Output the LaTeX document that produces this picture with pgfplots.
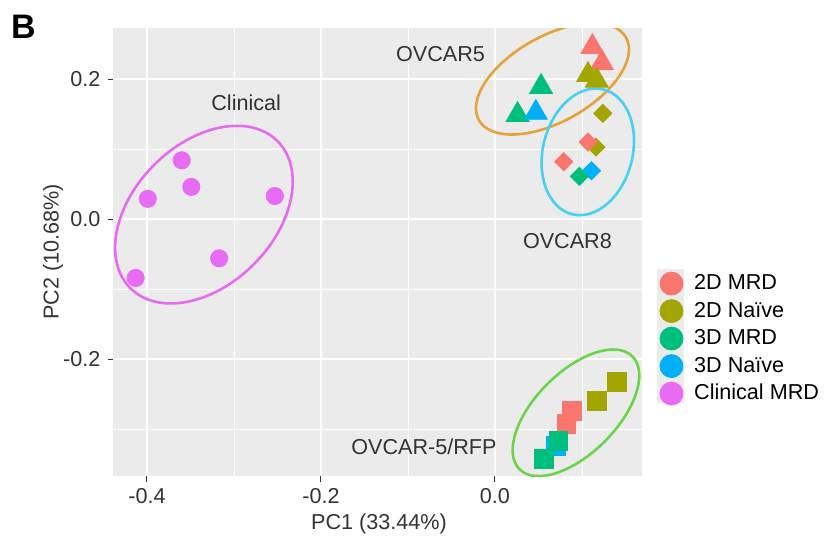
\documentclass[border=0pt]{standalone}
\usepackage{pgfplots}
\pgfplotsset{compat=1.18}
\usepackage{fontspec}
\setmainfont{Liberation Sans}
\definecolor{c1}{HTML}{F8766D}
\definecolor{c2}{HTML}{A3A500}
\definecolor{c3}{HTML}{00BF7D}
\definecolor{c4}{HTML}{00B0F6}
\definecolor{c5}{HTML}{E76BF3}
\definecolor{e1}{HTML}{E5A23A}
\definecolor{e2}{HTML}{45D2F2}
\definecolor{e3}{HTML}{6CD44A}
\definecolor{e4}{HTML}{E56CF0}
\definecolor{panel}{HTML}{EBEBEB}
\definecolor{txt}{HTML}{333333}
\begin{document}
\begin{tikzpicture}[font=\fontsize{10.8}{13}\selectfont]
\useasboundingbox (0pt,0pt) rectangle (412pt,269pt);
\fill[panel] (328.65pt,67.65pt) rectangle (342pt,134.35pt);
\begin{axis}[
  at={(56.5pt,31pt)}, anchor=south west,
  scale only axis, width=264.5pt, height=224pt,
  xmin=-0.439, xmax=0.169, ymin=-0.367, ymax=0.273,
  axis background/.style={fill=panel},
  axis line style={draw=none},
  xtick={-0.4,-0.2,0}, ytick={-0.2,0,0.2},
  minor xtick={-0.3,-0.1,0.1}, minor ytick={-0.3,-0.1,0.1},
  grid=both,
  major grid style={white, line width=0.8pt},
  minor grid style={white, line width=0.4pt},
  tick align=outside, tick pos=left,
  major tick length=2.75pt, minor tick length=0pt,
  every tick/.style={txt, line width=0.5pt},
  /pgf/number format/assume math mode=true,
  /pgf/number format/.cd, fixed, fixed zerofill, precision=1, /pgfplots/.cd,
  ticklabel style={txt},
  legend style={at={(1.0325,0.457)}, anchor=north west, draw=none, fill=none,
    inner sep=0pt, row sep=1.85pt, column sep=0pt,
    nodes={inner sep=0pt, text=black}},
  /tikz/every odd column/.append style={column sep=5.4pt},
  legend cell align=left,
  legend image code/.code={\fill[#1] (0pt,0pt) circle (5.75pt);},
]
% ellipses
\draw[e4, line width=1.3pt, rotate around={45:(axis cs:-0.3345,0.0064)}] (axis cs:-0.3345,0.0064) ellipse [x radius=52pt, y radius=35.2pt];
\draw[e1, line width=1.3pt, rotate around={29.3:(axis cs:0.0661,0.2004)}] (axis cs:0.0661,0.2004) ellipse [x radius=42.2pt, y radius=21.4pt];
\draw[e2, line width=1.3pt, rotate around={75.8:(axis cs:0.1067,0.0961)}] (axis cs:0.1067,0.0961) ellipse [x radius=32.15pt, y radius=22.4pt];
\draw[e3, line width=1.3pt, rotate around={45:(axis cs:0.0931,-0.2767)}] (axis cs:0.0931,-0.2767) ellipse [x radius=39.9pt, y radius=20.3pt];
% OVCAR5 triangles
\addplot[only marks, mark=triangle*, mark size=6.6pt, color=c1, forget plot] coordinates {(0.112,0.246) (0.123,0.223)};
\addplot[only marks, mark=triangle*, mark size=6.6pt, color=c2, forget plot] coordinates {(0.107,0.206) (0.117,0.198)};
\addplot[only marks, mark=triangle*, mark size=6.6pt, color=c3, forget plot] coordinates {(0.053,0.189) (0.026,0.149)};
\addplot[only marks, mark=triangle*, mark size=6.6pt, color=c4, forget plot] coordinates {(0.047,0.152)};
% OVCAR8 diamonds
\addplot[only marks, mark=square*, mark size=3.2pt, mark options={rotate=45}, color=c2, forget plot] coordinates {(0.124,0.151) (0.116,0.103)};
\addplot[only marks, mark=square*, mark size=3.2pt, mark options={rotate=45}, color=c4, forget plot] coordinates {(0.111,0.069)};
\addplot[only marks, mark=square*, mark size=3.2pt, mark options={rotate=45}, color=c1, forget plot] coordinates {(0.107,0.110) (0.079,0.082)};
\addplot[only marks, mark=square*, mark size=3.2pt, mark options={rotate=45}, color=c3, forget plot] coordinates {(0.097,0.061)};
% OVCAR-5/RFP squares
\addplot[only marks, mark=square*, mark size=4.7pt, color=c4, forget plot] coordinates {(0.070,-0.324)};
\addplot[only marks, mark=square*, mark size=4.7pt, color=c2, forget plot] coordinates {(0.140,-0.233) (0.117,-0.260)};
\addplot[only marks, mark=square*, mark size=4.7pt, color=c1, forget plot] coordinates {(0.088,-0.274) (0.082,-0.292)};
\addplot[only marks, mark=square*, mark size=4.7pt, color=c3, forget plot] coordinates {(0.073,-0.317) (0.056,-0.342)};
% Clinical circles
\addplot[only marks, mark=*, mark size=4.3pt, color=c5, forget plot] coordinates {
(-0.360,0.084) (-0.349,0.046) (-0.399,0.029) (-0.253,0.033) (-0.317,-0.056) (-0.413,-0.084)};
% labels
\node[anchor=base, text=txt] at (axis cs:-0.2859,0.1557) {Clinical};
\node[anchor=base, text=txt] at (axis cs:-0.0626,0.2247) {OVCAR5};
\node[anchor=base, text=txt] at (axis cs:0.0833,-0.0424) {OVCAR8};
\node[anchor=base, text=txt] at (axis cs:-0.0816,-0.3361) {OVCAR-5/RFP};
% legend
\addlegendimage{c1}\addlegendentry{2D MRD}
\addlegendimage{c2}\addlegendentry{2D Naïve}
\addlegendimage{c3}\addlegendentry{3D MRD}
\addlegendimage{c4}\addlegendentry{3D Naïve}
\addlegendimage{c5}\addlegendentry{Clinical MRD}
\end{axis}
\node[font=\fontsize{17}{20}\bfseries\selectfont, anchor=base] at (11.75pt,250pt) {B};
\node[text=txt] at (189.5pt,7pt) {PC1 (33.44\%)};
\node[text=txt, rotate=90] at (26.5pt,143pt) {PC2 (10.68\%)};
\end{tikzpicture}
\end{document}
